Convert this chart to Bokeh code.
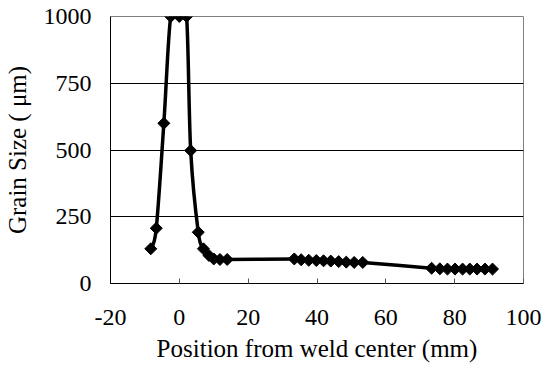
import numpy as np
from bokeh.plotting import figure
from bokeh.models import FixedTicker, ColumnDataSource
from bokeh.embed import file_html
from bokeh.resources import INLINE

# Data
position_mm = [-8.3, -6.7, -4.5, -2.5, 0.0, 2.1, 3.3, 5.5, 7.0, 8.6, 10.0, 11.8, 13.9,
               33.4, 35.4, 37.6, 39.8, 41.9, 44.0, 46.3, 48.5, 50.8, 53.3,
               73.3, 75.7, 77.9, 80.1, 82.3, 84.4, 86.5, 88.8, 91.0]
grain_um = [130, 207, 600, 1000, 1000, 1000, 498, 192, 130, 105, 92, 90, 90,
            92, 89, 87, 86, 85, 84, 82, 80, 79, 79,
            57, 55, 54, 54, 54, 54, 54, 54, 54]
x_ticks = [-20, 0, 20, 40, 60, 80, 100]
x_tick_labels = ["-20", "0", "20", "40", "60", "80", "100"]
y_ticks = [0, 250, 500, 750, 1000]
y_tick_labels = ["0", "250", "500", "750", "1000"]

FONT = "Liberation Serif"

p = figure(width=542, height=372, x_range=(-20, 100), y_range=(0, 1000),
           output_backend="svg", toolbar_location=None,
           min_border_left=109, min_border_right=19,
           min_border_top=16, min_border_bottom=89)
p.background_fill_color = "white"
p.border_fill_color = "white"
p.outline_line_color = "#808080"
p.outline_line_width = 1

# Smoothed line (Excel-like Bezier segments through the data points)
xs = np.array(position_mm, dtype=float)
ys = np.array(grain_um, dtype=float)
n = len(xs)
x0 = []; y0 = []; x1 = []; y1 = []; cx0 = []; cy0 = []; cx1 = []; cy1 = []
for i in range(n - 1):
    a = i - 1 if i > 0 else i
    d = i + 2 if i + 2 < n else i + 1
    x0.append(xs[i]); y0.append(ys[i]); x1.append(xs[i + 1]); y1.append(ys[i + 1])
    cx0.append(xs[i] + (xs[i + 1] - xs[a]) / 6.0)
    cy0.append(ys[i] + (ys[i + 1] - ys[a]) / 6.0)
    cx1.append(xs[i + 1] - (xs[d] - xs[i]) / 6.0)
    cy1.append(ys[i + 1] - (ys[d] - ys[i]) / 6.0)
bz = ColumnDataSource(dict(x0=x0, y0=y0, x1=x1, y1=y1, cx0=cx0, cy0=cy0, cx1=cx1, cy1=cy1))
p.bezier(x0="x0", y0="y0", x1="x1", y1="y1", cx0="cx0", cy0="cy0", cx1="cx1", cy1="cy1",
         source=bz, line_color="black", line_width=3.5)

p.scatter(position_mm, grain_um, marker="square", angle=np.pi / 4, size=8.5,
          fill_color="black", line_color="black", line_width=1)

# Axes
p.xaxis.ticker = FixedTicker(ticks=x_ticks)
p.yaxis.ticker = FixedTicker(ticks=y_ticks)
p.xaxis.major_label_overrides = {t: s for t, s in zip(x_ticks, x_tick_labels)}
p.yaxis.major_label_overrides = {t: s for t, s in zip(y_ticks, y_tick_labels)}
p.xaxis.minor_tick_line_color = None
p.yaxis.minor_tick_line_color = None
p.xaxis.major_tick_in = 5
p.xaxis.major_tick_out = 0
p.xaxis.major_tick_line_color = "#555555"
p.yaxis.major_tick_in = 0
p.yaxis.major_tick_out = 0
p.xaxis.axis_line_color = "black"
p.yaxis.axis_line_color = "black"

p.xaxis.axis_label = "Position from weld center (mm)"
p.yaxis.axis_label = "Grain Size ( μm)"
for ax in (p.xaxis, p.yaxis):
    ax.major_label_text_font = FONT
    ax.major_label_text_font_size = "24px"
    ax.major_label_text_font_style = "normal"
    ax.major_label_text_color = "black"
    ax.axis_label_text_font = FONT
    ax.axis_label_text_font_size = "25px"
    ax.axis_label_text_font_style = "normal"
    ax.axis_label_text_color = "black"
p.xaxis.major_label_standoff = 26
p.xaxis.axis_label_standoff = 7
p.yaxis.major_label_standoff = 19
p.yaxis.axis_label_standoff = 10

p.xgrid.visible = False
p.ygrid.grid_line_color = "black"
p.ygrid.grid_line_width = 1

open("out.html", "w").write(file_html(p, INLINE))
